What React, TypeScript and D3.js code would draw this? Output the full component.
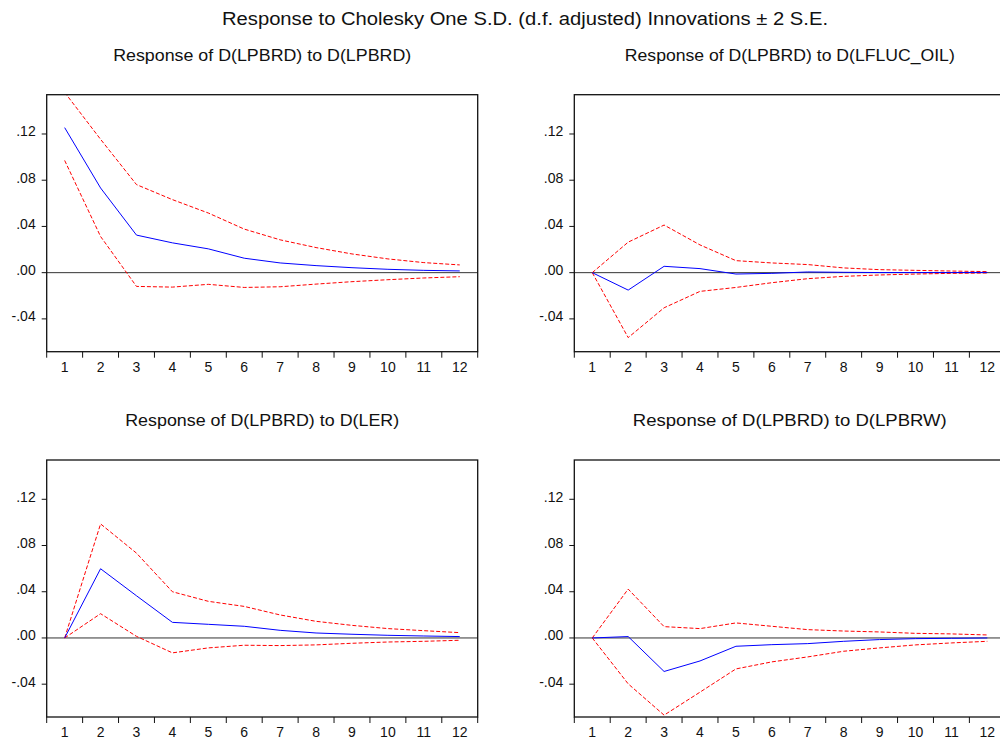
import React from 'react';
import * as d3 from 'd3';

const periods = [1, 2, 3, 4, 5, 6, 7, 8, 9, 10, 11, 12];
const yTicks = [-0.04, 0, 0.04, 0.08, 0.12];
const yTickLabels = ['-.04', '.00', '.04', '.08', '.12'];

const mainTitle = 'Response to Cholesky One S.D. (d.f. adjusted) Innovations \u00b1 2 S.E.';
const panelTitles = [
  'Response of D(LPBRD) to D(LPBRD)',
  'Response of D(LPBRD) to D(LFLUC_OIL)',
  'Response of D(LPBRD) to D(LER)',
  'Response of D(LPBRD) to D(LPBRW)',
];
// measured widths of the titles in the picture
const panelTitleWidths = [298, 330, 274, 314];

// response, upper band, lower band for each shock
const lpbrdResp = [0.1255, 0.0733, 0.0325, 0.0258, 0.0206, 0.0125, 0.0084, 0.0061, 0.0043, 0.0029, 0.002, 0.0015];
const lpbrdUpper = [0.156, 0.1154, 0.0762, 0.0632, 0.0516, 0.0377, 0.0284, 0.0217, 0.0162, 0.0119, 0.0087, 0.0067];
const lpbrdLower = [0.0971, 0.0313, -0.0119, -0.0125, -0.0101, -0.0128, -0.0122, -0.0099, -0.0078, -0.0061, -0.0046, -0.0035];

const oilResp = [0, -0.0151, 0.0055, 0.0035, -0.0012, -0.0006, 0.0006, 0.0003, 0.0001, 0.0001, 0.0001, 0.0002];
const oilUpper = [0, 0.0264, 0.0412, 0.024, 0.0104, 0.0084, 0.007, 0.0041, 0.0026, 0.002, 0.0014, 0.0009];
const oilLower = [0, -0.0562, -0.0304, -0.0162, -0.0128, -0.0087, -0.0052, -0.0032, -0.002, -0.0012, -0.0006, -0.0003];

const lerResp = [0, 0.0599, 0.0365, 0.0135, 0.0118, 0.0101, 0.0066, 0.0043, 0.0032, 0.0023, 0.0017, 0.0012];
const lerUpper = [0, 0.0987, 0.0734, 0.04, 0.0317, 0.0273, 0.0199, 0.0144, 0.0109, 0.0081, 0.0063, 0.0046];
const lerLower = [0, 0.021, 0.0014, -0.0129, -0.0086, -0.0063, -0.0066, -0.006, -0.0046, -0.0035, -0.0029, -0.002];

const lpbrwResp = [0, 0.0012, -0.029, -0.0199, -0.0072, -0.0058, -0.0049, -0.0029, -0.0014, -0.0006, -0.0003, 0];
const lpbrwUpper = [0, 0.0423, 0.0098, 0.0081, 0.013, 0.0101, 0.0072, 0.006, 0.0052, 0.004, 0.0035, 0.0026];
const lpbrwLower = [0, -0.0397, -0.0668, -0.0469, -0.0268, -0.0207, -0.0164, -0.0115, -0.0086, -0.006, -0.0043, -0.0029];

const FONT = '"Liberation Sans", Arial, sans-serif';

const panels = [
  { resp: lpbrdResp, upper: lpbrdUpper, lower: lpbrdLower, x0: 46.7, y0: 94.7 },
  { resp: oilResp, upper: oilUpper, lower: oilLower, x0: 574.3, y0: 94.7 },
  { resp: lerResp, upper: lerUpper, lower: lerLower, x0: 46.7, y0: 460 },
  { resp: lpbrwResp, upper: lpbrwUpper, lower: lpbrwLower, x0: 574.3, y0: 460 },
];

const PW = 431;
const PH = 257;

function Panel({ p, idx }: { p: typeof panels[0]; idx: number }) {
  const x = d3.scaleLinear().domain([0.5, 12.5]).range([p.x0, p.x0 + PW]);
  const y = d3.scaleLinear().domain([-0.0684, 0.154]).range([p.y0 + PH, p.y0]);
  const line = d3.line<number>().x((d, i) => x(periods[i])).y(d => y(d));
  const clipId = 'clip' + idx;
  const boundaries = d3.range(0, 13).map(i => i + 0.5);

  return (
    <g>
      <text x={p.x0 + PW / 2 - panelTitleWidths[idx] / 2} y={p.y0 - 34} fontSize={17}
        textLength={panelTitleWidths[idx]} lengthAdjust="spacingAndGlyphs"
        fontFamily={FONT} fill="#111">{panelTitles[idx]}</text>
      <clipPath id={clipId}>
        <rect x={p.x0} y={p.y0} width={PW} height={PH} />
      </clipPath>
      <line x1={p.x0} x2={p.x0 + PW} y1={y(0)} y2={y(0)} stroke="#333" strokeWidth={1} />
      <g clipPath={`url(#${clipId})`}>
        <path d={line(p.upper) || ''} fill="none" stroke="#ff0000" strokeWidth={1} strokeDasharray="4,2" />
        <path d={line(p.lower) || ''} fill="none" stroke="#ff0000" strokeWidth={1} strokeDasharray="4,2" />
        <path d={line(p.resp) || ''} fill="none" stroke="#0000ff" strokeWidth={1} />
      </g>
      <rect x={p.x0} y={p.y0} width={PW} height={PH} fill="none" stroke="#111" strokeWidth={1.3} />
      {yTicks.map((t, i) => (
        <g key={t}>
          <line x1={p.x0 - 5} x2={p.x0} y1={y(t)} y2={y(t)} stroke="#111" strokeWidth={1} />
          <text x={p.x0 - 11} y={y(t) + 2.5} textAnchor="end" fontSize={14} fontFamily={FONT}
            fill="#111">{yTickLabels[i]}</text>
        </g>
      ))}
      {boundaries.map(b => (
        <line key={b} x1={x(b)} x2={x(b)} y1={p.y0 + PH} y2={p.y0 + PH + 6} stroke="#111" strokeWidth={1} />
      ))}
      {periods.map(d => (
        <text key={d} x={x(d)} y={p.y0 + PH + 20} textAnchor="middle" fontSize={14}
          fontFamily={FONT} fill="#111">{d}</text>
      ))}
    </g>
  );
}

export default function App() {
  return (
    <svg width={1000} height={742} style={{ position: 'absolute', left: 0, top: 0, background: '#fff' }}>
      <rect x={0} y={0} width={1000} height={742} fill="#fff" />
      <text x={222} y={25} fontSize={17.5} textLength={606} lengthAdjust="spacingAndGlyphs"
        fontFamily={FONT} fill="#111">
        {mainTitle}
      </text>
      {panels.map((p, i) => <Panel key={i} p={p} idx={i} />)}
    </svg>
  );
}
